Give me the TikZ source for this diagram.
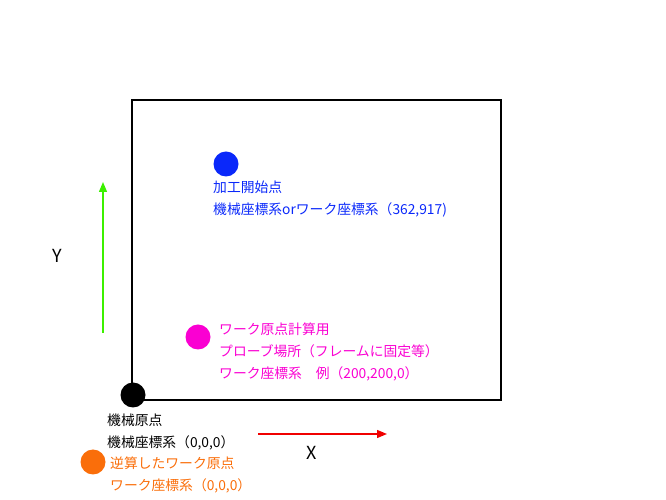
\documentclass[tikz,border=0pt]{standalone}
\usepackage{fontspec}
\setmainfont{Noto Sans CJK JP}
\usepackage{tikz}
\usetikzlibrary{arrows.meta}
\definecolor{startblue}{RGB}{10,40,250}
\definecolor{probepink}{RGB}{250,0,210}
\definecolor{workorange}{RGB}{250,110,10}
\definecolor{axisgreen}{RGB}{60,240,0}
\definecolor{axisred}{RGB}{240,0,0}

\begin{document}
\begin{tikzpicture}[x=1pt, y=1pt,
  dot/.style = {circle, fill, minimum size=25pt, inner sep=0pt},
  note/.style = {anchor=west, align=left, inner sep=0pt, font=\fontsize{13.8}{22}\selectfont},
  axis/.style = {font=\fontsize{18}{18}\selectfont},
  arr/.style = {-{Triangle[length=10pt,width=8pt]}, line width=1.3pt}]
\useasboundingbox (0,0) rectangle (666,500);
\draw[line width=1.4pt] (132,400) rectangle (501,100);
\node[dot, startblue] (start) at (226,336) {};
\node[note, text=startblue] (starttext) at (213,300.5) {加工開始点\\機械座標系orワーク座標系（362,917)};
\node[dot, probepink] (probe) at (198,163) {};
\node[note, text=probepink] (probetext) at (219,148) {ワーク原点計算用\\プローブ場所（フレームに固定等）\\ワーク座標系　例（200,200,0）};
\node[dot, black] (origin) at (133,105) {};
\node[note] (origintext) at (107,68) {機械原点\\機械座標系（0,0,0）};
\node[dot, workorange] (work) at (93,38) {};
\node[note, text=workorange] (worktext) at (110,25.5) {逆算したワーク原点\\ワーク座標系（0,0,0）};
\coordinate (y0) at (103,167);
\coordinate (y1) at (103,318);
\coordinate (x0) at (258,66);
\coordinate (x1) at (387,66);
\draw[arr, axisgreen] (y0) -- (y1);
\draw[arr, axisred] (x0) -- (x1);
\node[axis] (ylabel) at (57,244) {Y};
\node[axis] (xlabel) at (312,47) {X};
\end{tikzpicture}
\end{document}
